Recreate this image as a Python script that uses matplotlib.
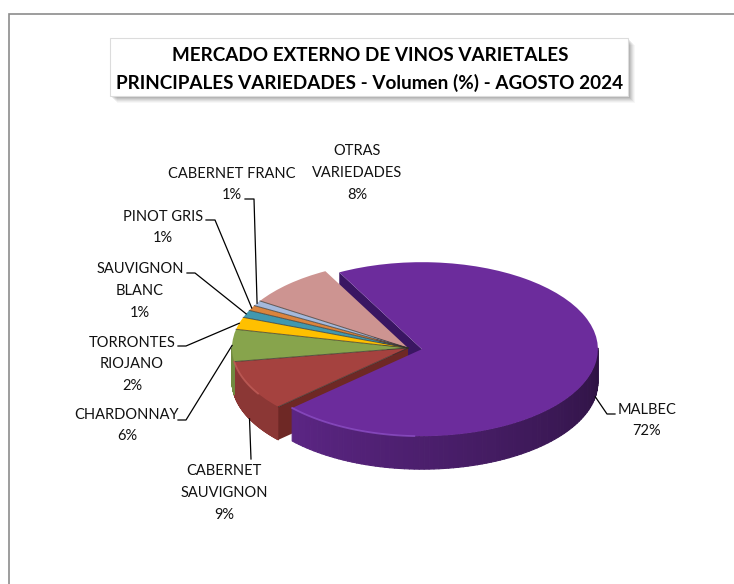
# _*_coding: utf-8_*_

import numpy as np
import matplotlib
matplotlib.use('Agg')
import matplotlib.pyplot as plt
from matplotlib.collections import PolyCollection
from matplotlib.patches import Rectangle

plt.rcParams['font.family'] = ['Lato', 'DejaVu Sans']

labels = ['MALBEC', 'CABERNET\nSAUVIGNON', 'CHARDONNAY', 'TORRONTES\nRIOJANO',
          'SAUVIGNON\nBLANC', 'PINOT GRIS', 'CABERNET FRANC', 'OTRAS\nVARIEDADES']
values = [71.6, 9.4, 6, 2.3, 1.4, 1, 1, 8.2]
title = 'MERCADO EXTERNO DE VINOS VARIETALES\nPRINCIPALES VARIEDADES - Volumen (%) - AGOSTO 2024'

colors = ['#6C2C9C', '#A5423F', '#87A44C', '#FFC000', '#4198AF', '#DB843D', '#A4B9DC', '#CD9491']

# layout, in pixels of the 734x584 picture
W, H = 734, 584
CX, CY, RX, RY, DEPTH = 408, 348, 176, 87, 33
text_pos = [(647, 420.5), (224, 493), (127, 425.5), (132, 364.5),
            (140, 291), (163, 227.5), (232, 184.5), (357, 173)]
stub_start = [(615, 414), (251, 459), (178, 420), (178, 346),
              (187, 273), (206, 220), (245, 199), None]
stub_end = [(607, 414), (251, 459), (186, 420), (186, 346),
            (195, 273), (215, 220), (254, 199), None]

fig = plt.figure(figsize=(W / 100, H / 100), dpi=100)
ax = fig.add_axes([0, 0, 1, 1])

wedges, _ = ax.pie(values, colors=colors, explode=[0.08, 0, 0, 0, 0, 0, 0, 0],
                   startangle=118, counterclock=False,
                   wedgeprops={'linewidth': 0})
ax.set_aspect('auto')
ax.set_xlim(-CX / RX, (W - CX) / RX)
ax.set_ylim((CY - H) / RY, CY / RY)
ax.axis('off')
depth = DEPTH / RY


def darker(color, k):
    return tuple(c * k for c in matplotlib.colors.to_rgb(color))


def rim(wedge, a, drop=0.0):
    cx, cy = wedge.center
    return cx + np.cos(np.radians(a)), cy + np.sin(np.radians(a)) - drop


def shade(a):
    return 0.84 - 0.42 * np.clip((a + 135) / 135, 0, 1)


def wall(wedge, color, zorder):
    steps = np.linspace(wedge.theta1, wedge.theta2, 160)
    polys, cols = [], []
    for a, b in zip(steps[:-1], steps[1:]):
        if np.sin(np.radians((a + b) / 2)) >= 0:
            continue
        polys.append([rim(wedge, a), rim(wedge, b), rim(wedge, b, depth), rim(wedge, a, depth)])
        cols.append(darker(color, shade((a + b) / 2)))
    if polys:
        ax.add_collection(PolyCollection(polys, facecolors=cols, edgecolors=cols,
                                         linewidths=0.8, zorder=zorder))


def cut_face(wedge, a, color, zorder):
    cx, cy = wedge.center
    x, y = rim(wedge, a)
    ax.fill([cx, x, x, cx], [cy, y, y - depth, cy - depth], color=color, lw=0, zorder=zorder)


# malbec's own cut face shows through the gap, everything else sits in front of it
cut_face(wedges[0], wedges[0].theta2, '#3A1662', 2)
cut_face(wedges[1], wedges[1].theta2, '#6E2825', 3.5)

for i, w in enumerate(wedges):
    w.set_zorder(6 if i == 0 else 4)
    wall(w, colors[i], 5 if i == 0 else 3)
    if i > 0:
        x, y = rim(w, w.theta2)
        ax.plot([w.center[0], x], [w.center[1], y], color='#33302a', lw=0.7, alpha=0.7, zorder=4.5)

# bevel highlight along the front rim
arc = np.linspace(wedges[0].theta1, wedges[0].theta1 + 45, 40)
ax.plot(*rim(wedges[0], arc), color='#8E50C8', lw=1.3, alpha=0.75, zorder=7)
arc = np.linspace(wedges[1].theta1, wedges[1].theta2 - 11, 30)
ax.plot(*rim(wedges[1], arc), color='#C4605B', lw=1.3, alpha=0.75, zorder=4.6)

# overlay in picture pixels for frame, title box and labels
ov = fig.add_axes([0, 0, 1, 1], zorder=10)
ov.set_xlim(0, W)
ov.set_ylim(H, 0)
ov.axis('off')
ov.patch.set_alpha(0)

ov.plot([9, 9, W], [H, 14, 14], color='#8C8C8C', lw=1.2, solid_joinstyle='miter')

for off, a in [(7, 0.03), (6, 0.04), (5, 0.05), (4, 0.06), (3, 0.07), (2, 0.08)]:
    ov.add_patch(Rectangle((110 + off, 38 + off), 518, 58, fc='black', ec='none', alpha=a))
ov.add_patch(Rectangle((110, 38), 518, 58, fc='white', ec='#DCDCDC', lw=0.8))
ov.text(370, 69.5, title, ha='center', va='center', fontsize=13.6, fontweight='bold',
        color='black', linespacing=1.6)

for i, w in enumerate(wedges):
    ov.text(text_pos[i][0], text_pos[i][1], '%s\n%.0f%%' % (labels[i], values[i]),
            ha='center', va='center', fontsize=10.5, color='#111111', linespacing=1.7)
    if stub_start[i] is None:
        continue
    mid = (w.theta1 + w.theta2) / 2
    x, y = rim(w, mid, depth if np.sin(np.radians(mid)) < 0 else 0)
    px, py = CX + x * RX, CY - y * RY
    ov.plot([stub_start[i][0], stub_end[i][0], px], [stub_start[i][1], stub_end[i][1], py],
            color='black', lw=0.9)

fig.savefig('out.png', dpi=100)
